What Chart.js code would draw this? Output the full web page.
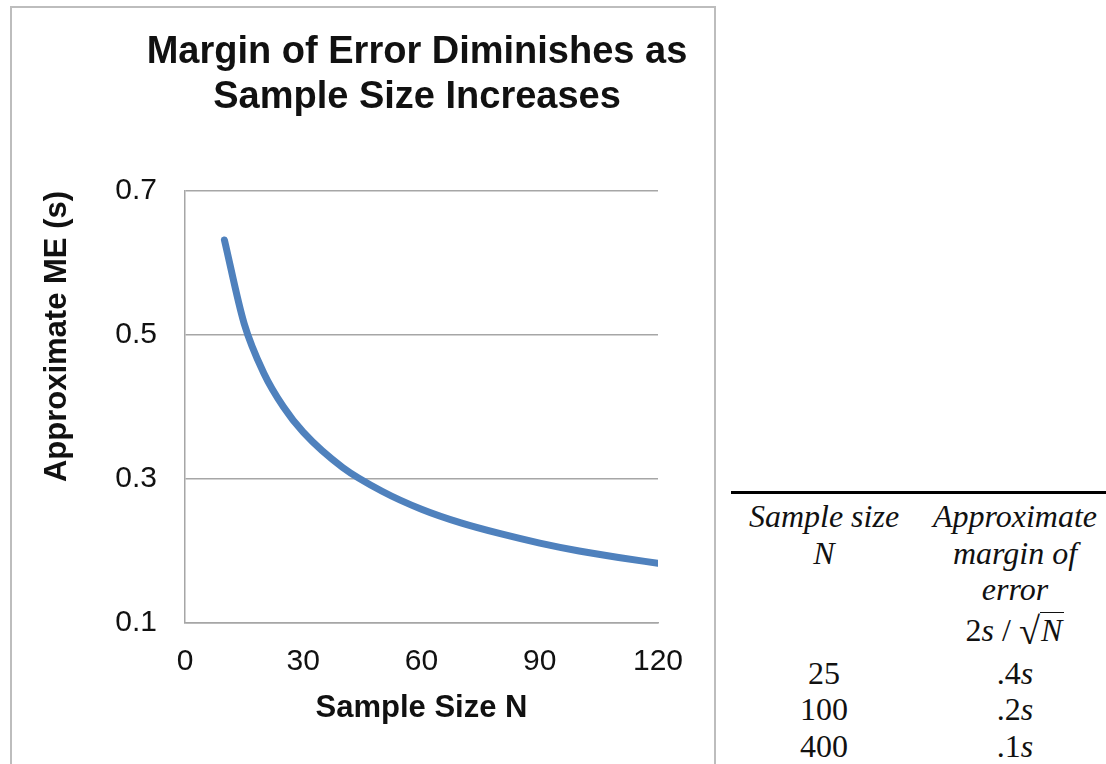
<!DOCTYPE html>
<html>
<head>
<meta charset="utf-8">
<script src="https://cdn.jsdelivr.net/npm/chart.js@4.4.1/dist/chart.umd.min.js"></script>
<style>
    body { margin: 0; background: #fff; width: 1106px; height: 764px; overflow: hidden; position: relative; }
    #chartBox { position: absolute; left: 10px; top: 6px; width: 702px; height: 780px; border: 2px solid #bdbdbd; }
    #meChart { position: absolute; left: 0; top: 0; }
    #meTable { position: absolute; left: 731px; top: 491px; width: 375px; border-top: 3px solid #000;
               font-family: "Liberation Serif", "Times New Roman", serif; font-size: 32px; color: #111; }
    .row { position: relative; height: 36.5px; line-height: 36.5px; }
    .c1, .c2 { position: absolute; top: 0; text-align: center; white-space: nowrap; }
    .c1 { left: 0; width: 186px; }
    .c2 { left: 186px; width: 196px; }
    .hd { font-style: italic; }
    .rad { display: inline-block; font-size: 1.2em; line-height: 1; transform: translateY(3px); }
    .sq { display: inline-block; font-style: italic; line-height: 1; border-top: 1.5px solid #111; padding: 1px 2px 0 1px; }
</style>
</head>
<body>
<div id="chartBox"><canvas id="meChart" width="702" height="755"></canvas></div>
<div id="meTable"></div>

<script>
// sample sizes and the approximate margin of error (in units of s)
const sampleN = [10, 15, 20, 25, 30, 40, 50, 60, 70, 80, 90, 100, 110, 120];
const approxME = [0.632, 0.516, 0.447, 0.4, 0.365, 0.316, 0.283, 0.258, 0.239, 0.224, 0.211, 0.2, 0.191, 0.183];

const xTicks = [0, 30, 60, 90, 120];
const yTicks = [0.1, 0.3, 0.5, 0.7];

// table next to the chart
const tableN = ["25", "100", "400"];
const tableME = [".4", ".2", ".1"];

const gridGray = "#a6a6a6";
const sans = "Liberation Sans, Arial, sans-serif";

function buildTable() {
    const el = document.getElementById("meTable");
    let html = `
        <div style="height:4px"></div>
        <div class="row"><span class="c1 hd">Sample size</span><span class="c2 hd">Approximate</span></div>
        <div class="row"><span class="c1 hd">N</span><span class="c2 hd">margin of</span></div>
        <div class="row"><span class="c2 hd">error</span></div>
        <div class="row" style="height:47px;line-height:44px"><span class="c2">2<i>s</i> / <span class="rad">√</span><span class="sq">N</span></span></div>
    `;
    tableN.forEach((n, i) => {
        html += `<div class="row"><span class="c1">${n}</span><span class="c2">${tableME[i]}<i>s</i></span></div>`;
    });
    el.innerHTML = html;
}

// the title sits a bit left of the plot centre and is wider than the plot
const widenTitle = {
    id: "widenTitle",
    afterLayout(chart) {
        const t = chart.titleBlock;
        if (!t) return;
        t.left = 105;
        t.right = 705;
        t.width = 600;
    }
};

function renderChart() {
    new Chart(document.getElementById("meChart"), {
        type: "line",
        data: {
            datasets: [{
                data: sampleN.map((n, i) => ({ x: n, y: approxME[i] })),
                borderColor: "#4f81bd",
                borderWidth: 7,
                borderCapStyle: "round",
                pointRadius: 0,
                cubicInterpolationMode: "monotone",
                fill: false
            }]
        },
        options: {
            responsive: false,
            animation: false,
            devicePixelRatio: 1,
            layout: { padding: { left: 23, right: 56, top: 0, bottom: 32 } },
            plugins: {
                legend: { display: false },
                tooltip: { enabled: false },
                title: {
                    display: true,
                    fullSize: false,
                    text: ["Margin of Error Diminishes as", "Sample Size Increases"],
                    color: "#111",
                    font: { family: sans, size: 38, weight: "bold", lineHeight: 1.184 },
                    padding: { top: 22, bottom: 71 }
                }
            },
            scales: {
                x: {
                    type: "linear",
                    min: 0,
                    max: 120,
                    afterFit: s => { s.height = 108; },
                    afterBuildTicks: s => { s.ticks = xTicks.map(v => ({ value: v })); },
                    grid: { display: false, drawTicks: false },
                    border: { display: true, color: gridGray, width: 1.5 },
                    ticks: { color: "#111", padding: 21, font: { family: sans, size: 30 } },
                    title: {
                        display: true,
                        text: "Sample Size N",
                        color: "#111",
                        font: { family: sans, size: 31, weight: "bold" }
                    }
                },
                y: {
                    min: 0.1,
                    max: 0.7,
                    afterFit: s => { s.width = 150; },
                    afterBuildTicks: s => { s.ticks = yTicks.map(v => ({ value: v })); },
                    grid: { color: gridGray, lineWidth: 1.5, drawTicks: false },
                    border: { display: true, color: gridGray, width: 1.5 },
                    ticks: {
                        color: "#111",
                        padding: 28,
                        font: { family: sans, size: 30 },
                        callback: v => v.toFixed(1)
                    },
                    title: {
                        display: true,
                        text: "Approximate ME (s)",
                        align: "end",
                        color: "#111",
                        font: { family: sans, size: 31, weight: "bold" }
                    }
                }
            }
        },
        plugins: [widenTitle]
    });
}

buildTable();
renderChart();
</script>
</body>
</html>
